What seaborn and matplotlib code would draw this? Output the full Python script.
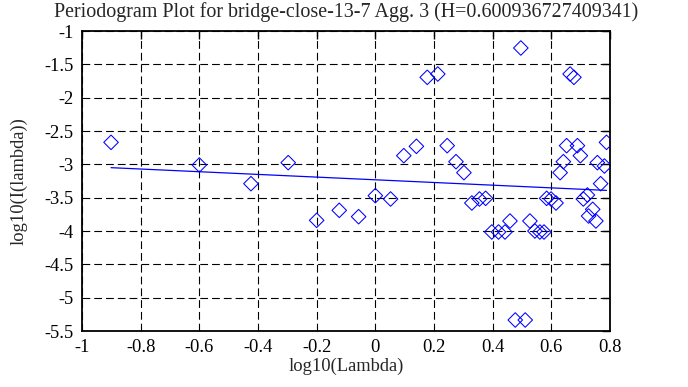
import matplotlib
matplotlib.use("Agg")
import matplotlib.pyplot as plt
import seaborn as sns
import pandas as pd

log_lambda = [-0.901, -0.600, -0.424, -0.297, -0.200, -0.123, -0.057, 0.000, 0.052,
              0.097, 0.140, 0.177, 0.213, 0.245, 0.275, 0.302, 0.329, 0.355, 0.376,
              0.397, 0.420, 0.442, 0.459, 0.477, 0.496, 0.511, 0.527, 0.544, 0.561,
              0.575, 0.584, 0.599, 0.616, 0.630, 0.641, 0.652, 0.664, 0.677, 0.689,
              0.699, 0.709, 0.723, 0.727, 0.741, 0.752, 0.757, 0.768, 0.781, 0.788]
log_I = [-2.67, -3.01, -3.29, -2.975, -3.84, -3.69, -3.785, -3.47, -3.52,
         -2.87, -2.73, -1.695, -1.645, -2.72, -2.96, -3.125, -3.58, -3.52, -3.51,
         -4.015, -4.015, -4.015, -3.85, -5.335, -1.255, -5.335, -3.85, -4.0, -4.015,
         -4.015, -3.51, -3.52, -3.58, -3.125, -2.96, -2.72, -1.645, -1.695, -2.72,
         -2.87, -3.52, -3.46, -3.775, -3.675, -3.85, -2.975, -3.29, -3.025, -2.67]

fit_x = [-0.901, 0.788]
fit_y = [-3.050, -3.391]

title = "Periodogram Plot for bridge-close-13-7 Agg. 3 (H=0.600936727409341)"
x_ticks = [-1, -0.8, -0.6, -0.4, -0.2, 0, 0.2, 0.4, 0.6, 0.8]
x_tick_labels = ["-1", "-0.8", "-0.6", "-0.4", "-0.2", "0", "0.2", "0.4", "0.6", "0.8"]
y_ticks = [-1, -1.5, -2, -2.5, -3, -3.5, -4, -4.5, -5, -5.5]
y_tick_labels = ["-1", "-1.5", "-2", "-2.5", "-3", "-3.5", "-4", "-4.5", "-5", "-5.5"]

sns.set_style("white")
plt.rcParams["font.family"] = ["Liberation Serif", "DejaVu Serif"]
plt.rcParams["axes.unicode_minus"] = False

fig = plt.figure(figsize=(6.88, 3.87), dpi=100)
ax = fig.add_axes([82/688, 1-331/387, (610-82)/688, (331-31)/387])

df = pd.DataFrame({"x": log_lambda, "y": log_I})
sns.scatterplot(data=df, x="x", y="y", ax=ax, marker="D", s=55,
                facecolors="none", edgecolor="#0000ff", linewidth=0.75, zorder=3)
sns.lineplot(x=fit_x, y=fit_y, ax=ax, color="#0000ff", linewidth=0.9, zorder=2)

ax.set_xlim(-1, 0.8)
ax.set_ylim(-5.5, -1)
ax.set_xticks(x_ticks)
ax.set_xticklabels(x_tick_labels)
ax.set_yticks(y_ticks)
ax.set_yticklabels(y_tick_labels)
ax.grid(True, color="black", linestyle=(0, (7, 3.6)), linewidth=0.8)
ax.set_axisbelow(True)
for sp in ax.spines.values():
    sp.set_color("black")
    sp.set_linewidth(1.3)
ax.tick_params(direction="in", length=6, width=1, top=True, right=True,
               labelsize=13.3, colors="black", pad=6)
ax.set_xlabel("log10(Lambda)", fontsize=13.3, labelpad=1)
ax.set_ylabel("log10(I(lambda))", fontsize=13.3, labelpad=12)
ax.set_title(title, fontsize=14.4, pad=10)

fig.savefig("out.png", dpi=100, facecolor="white")
